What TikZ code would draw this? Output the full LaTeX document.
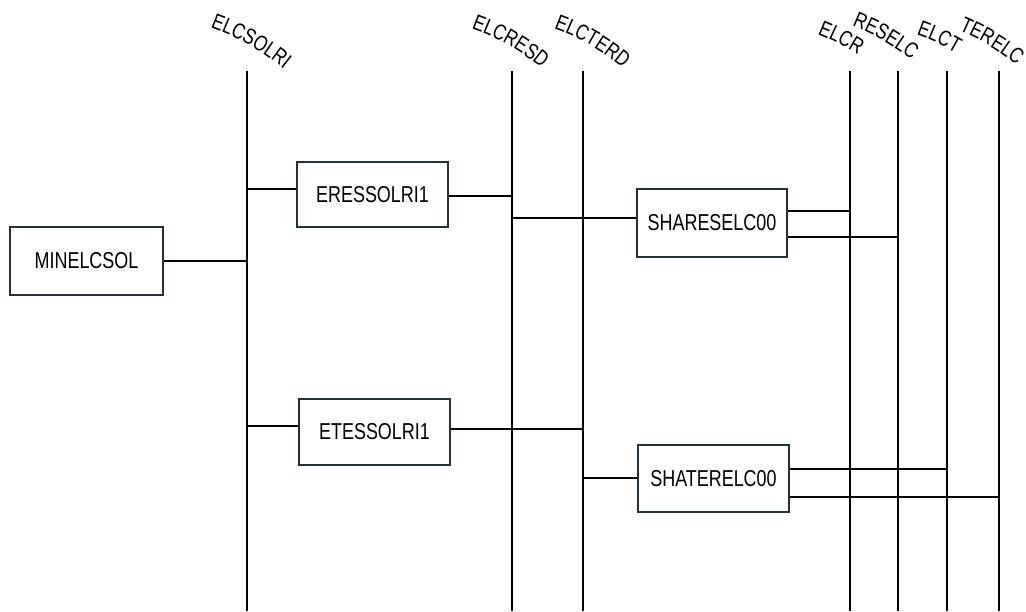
\documentclass[tikz,border=0pt]{standalone}
\usepackage{graphicx}
\usepackage{fontspec}
\setmainfont{Liberation Sans}
\newfontfamily\narrowsans[FakeStretch=0.78]{Liberation Sans}
\usetikzlibrary{decorations.text}

\definecolor{boxline}{HTML}{22323A}
\newcommand\busfont{\narrowsans\fontsize{22pt}{22pt}\selectfont}
\newcommand\boxtext[1]{\scalebox{0.78}[1]{\fontsize{23pt}{23pt}\selectfont #1}}
% horizontal link from a point on a box edge to a bus line
\newcommand\hlink[3]{\draw[wire] ([yshift=#2]#1) coordinate (lnk) -- (lnk -| #3);}
% bus line with its curved label
\newcommand\bus[6]{%
  \coordinate (#1) at (#2,71);
  \coordinate (#1-b) at (#2,611);
  \draw[wire] (#1) -- (#1-b);
  \path[decorate,
        decoration={text along path, text={|\busfont|#3}, text align=center}]
    (#4) to[bend left=#6] (#5);}

\begin{document}
\begin{tikzpicture}[x=1pt, y=-1pt,
  wire/.style={line width=1.5pt, black},
  unit/.style={draw=boxline, line width=2pt, fill=white, inner sep=0pt,
               minimum width=#1pt, anchor=center},
  unit/.default=151]
\useasboundingbox (0,0) rectangle (1026,611);

% bus lines
\bus{elcsolri}{247}{ELCSOLRI}{203,25}{290,74}{10}
\bus{elcresd}{512}{ELCRESD}{466,27}{546,72}{10}
\bus{elcterd}{583}{ELCTERD}{550,27}{626,71}{10}
\bus{elcr}{850}{ELCR}{811,32}{864,59}{6}
\bus{reselc}{898}{RESELC}{847,24}{916,63}{8}
\bus{elct}{947}{ELCT}{911,33}{961,56}{6}
\bus{terelc}{999}{TERELC}{955,29}{1020,68}{8}

% units
\node[unit=153, minimum height=68pt] (mine) at (86.5,261) {\boxtext{MINELCSOL}};
\node[unit, minimum height=65pt] (eres) at (372.5,194.5) {\boxtext{ERESSOLRI1}};
\node[unit=150, minimum height=68pt] (shares) at (712,223) {\boxtext{SHARESELC00}};
\node[unit, minimum height=66pt] (etes) at (374.5,432) {\boxtext{ETESSOLRI1}};
\node[unit, minimum height=67pt] (shater) at (713.5,478.5) {\boxtext{SHATERELC00}};

% links
\hlink{mine.east}{0pt}{elcsolri}
\hlink{eres.west}{5.5pt}{elcsolri}
\hlink{eres.east}{-1.5pt}{elcresd}
\hlink{shares.west}{5pt}{elcresd}
\hlink{shares.east}{12pt}{elcr}
\hlink{shares.east}{-14pt}{reselc}
\hlink{etes.west}{6pt}{elcsolri}
\hlink{etes.east}{3pt}{elcterd}
\hlink{shater.west}{0.5pt}{elcterd}
\hlink{shater.east}{9.5pt}{elct}
\hlink{shater.east}{-18.5pt}{terelc}
\end{tikzpicture}
\end{document}
